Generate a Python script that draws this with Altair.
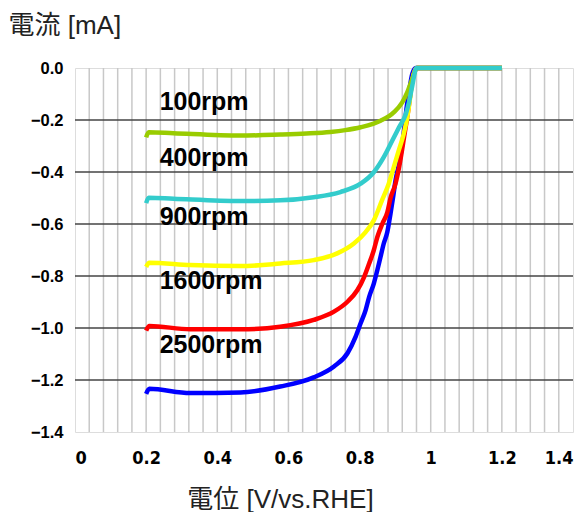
import altair as alt
import pandas as pd

# ---- data ----
series_names = ["2500rpm", "1600rpm", "900rpm", "100rpm", "400rpm"]  # draw order
series_colors = {"100rpm": "#99cc00", "400rpm": "#33cccc", "900rpm": "#ffff00",
                 "1600rpm": "#ff0000", "2500rpm": "#0000ff"}

v_100 = [0.200, 0.207, 0.277, 0.465, 0.577, 0.650, 0.718, 0.760, 0.803, 0.859, 0.896, 0.920, 0.934, 0.948, 0.962, 1.0, 1.2]
i_100 = [-0.267, -0.247, -0.251, -0.260, -0.256, -0.252, -0.246, -0.239, -0.228, -0.203, -0.171, -0.132, -0.094, -0.043, 0.0, 0.0, 0.0]

v_400 = [0.200, 0.207, 0.277, 0.465, 0.577, 0.671, 0.746, 0.803, 0.840, 0.868, 0.892, 0.911, 0.930, 0.939, 0.948, 0.960, 1.0, 1.2]
i_400 = [-0.520, -0.499, -0.503, -0.512, -0.509, -0.497, -0.477, -0.445, -0.401, -0.343, -0.279, -0.228, -0.177, -0.132, -0.069, 0.0, 0.0, 0.0]

v_900 = [0.200, 0.209, 0.324, 0.465, 0.577, 0.671, 0.737, 0.784, 0.817, 0.840, 0.863, 0.882, 0.896, 0.910, 0.924, 0.934, 0.941, 0.948, 0.960, 1.0, 1.2]
i_900 = [-0.765, -0.749, -0.758, -0.762, -0.752, -0.739, -0.713, -0.675, -0.631, -0.586, -0.509, -0.445, -0.382, -0.318, -0.254, -0.190, -0.126, -0.049, 0.0, 0.0, 0.0]

v_1600 = [0.200, 0.209, 0.324, 0.465, 0.577, 0.671, 0.728, 0.766, 0.794, 0.813, 0.827, 0.840, 0.850, 0.864, 0.878, 0.887, 0.901, 0.911, 0.925, 0.935, 0.944, 0.950, 0.960, 1.0, 1.2]
i_1600 = [-1.010, -0.992, -1.005, -1.005, -0.995, -0.969, -0.937, -0.899, -0.854, -0.803, -0.752, -0.701, -0.650, -0.599, -0.555, -0.500, -0.445, -0.382, -0.267, -0.180, -0.088, -0.035, 0.0, 0.0, 0.0]

v_2500 = [0.200, 0.209, 0.324, 0.465, 0.577, 0.671, 0.728, 0.766, 0.789, 0.803, 0.817, 0.827, 0.840, 0.850, 0.859, 0.868, 0.878, 0.887, 0.895, 0.901, 0.911, 0.920, 0.926, 0.932, 0.939, 0.948, 0.958, 1.0, 1.2]
i_2500 = [-1.253, -1.234, -1.250, -1.248, -1.225, -1.190, -1.148, -1.097, -1.033, -0.982, -0.931, -0.880, -0.829, -0.777, -0.726, -0.675, -0.631, -0.560, -0.490, -0.433, -0.369, -0.292, -0.230, -0.155, -0.094, -0.024, 0.0, 0.0, 0.0]

label_texts = ["100rpm", "400rpm", "900rpm", "1600rpm", "2500rpm"]
label_v = [0.238, 0.238, 0.238, 0.238, 0.238]
label_i = [-0.131, -0.346, -0.573, -0.819, -1.065]

x_ticks = [0, 0.2, 0.4, 0.6, 0.8, 1.0, 1.2, 1.4]
y_ticks = [-1.4, -1.2, -1.0, -0.8, -0.6, -0.4, -0.2, 0.0]
x_grid = [round(0.04 * k, 2) for k in range(1, 35)]
y_grid = [-1.2, -1.0, -0.8, -0.6, -0.4, -0.2]

series_data = {"100rpm": (v_100, i_100), "400rpm": (v_400, i_400), "900rpm": (v_900, i_900),
               "1600rpm": (v_1600, i_1600), "2500rpm": (v_2500, i_2500)}

xs = alt.Scale(domain=[0, 1.4], nice=False, zero=False)
ys = alt.Scale(domain=[-1.4, 0], nice=False, zero=False)

title_font = "Liberation Sans, Arial, Noto Sans CJK JP, sans-serif"

x_axis = alt.Axis(values=x_ticks, format="~g",
                  labelFont="Liberation Sans Narrow, DejaVu Sans Condensed, sans-serif",
                  labelFontWeight="bold", labelFontSize=18, labelColor="black", labelPadding=17,
                  ticks=False, domain=False, grid=False,
                  title="電位 [V/vs.RHE]", titleFont=title_font, titleFontSize=26,
                  titleFontWeight="normal", titleColor="#222", titleX=205, titleY=67,
                  titleAlign="center", titleBaseline="middle")
y_axis = alt.Axis(values=y_ticks, format=".1f", labelFont="Liberation Sans", labelFontWeight="bold",
                  labelFontSize=16.5, labelColor="black", labelPadding=12, ticks=False, domain=False,
                  grid=False, title="電流 [mA]", titleAngle=0, titleAlign="left", titleX=-67, titleY=-43,
                  titleBaseline="middle", titleFont=title_font, titleFontSize=26,
                  titleFontWeight="normal", titleColor="#222")

vgrid = alt.Chart(pd.DataFrame({"g": x_grid})).mark_rule(color="#c8c8c8", strokeWidth=1.5).encode(
    x=alt.X("g:Q", scale=xs, axis=x_axis))
hgrid = alt.Chart(pd.DataFrame({"g": y_grid})).mark_rule(color="#444444", strokeWidth=1.5).encode(
    y=alt.Y("g:Q", scale=ys, axis=y_axis))

layers = [vgrid, hgrid]
for name in series_names:
    v, i = series_data[name]
    df = pd.DataFrame({"V": v, "I": i})
    layers.append(alt.Chart(df).mark_line(color=series_colors[name], strokeWidth=4.5,
                                          interpolate="monotone").encode(
        x=alt.X("V:Q", scale=xs), y=alt.Y("I:Q", scale=ys)))

labels = alt.Chart(pd.DataFrame({"V": label_v, "I": label_i, "t": label_texts})).mark_text(
    align="left", baseline="middle", font="Liberation Sans", fontWeight="bold", fontSize=25,
    color="black").encode(x=alt.X("V:Q", scale=xs), y=alt.Y("I:Q", scale=ys), text="t:N")
layers.append(labels)

chart = alt.layer(*layers).properties(
    width=498, height=364, autosize=alt.AutoSizeParams(type="none"),
    padding={"left": 67, "top": 60, "right": 4, "bottom": 80}
).configure_view(stroke="black", strokeWidth=3).configure(background="white")

chart.save("out.html", embed_options={"renderer": "svg", "actions": False})
